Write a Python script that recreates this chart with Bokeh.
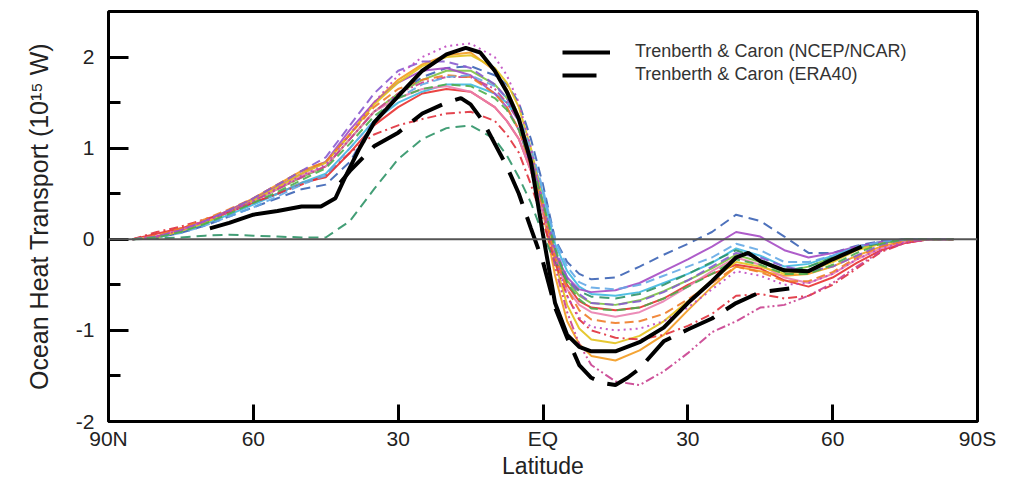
from bokeh.plotting import figure
from bokeh.models import Range1d, FixedTicker, Legend, LegendItem, Span
from bokeh.embed import file_html
from bokeh.resources import INLINE

# ---------------- data ----------------
lat = [85, 80, 75, 70, 65, 60, 55, 50, 45, 40, 35, 30, 25, 20, 15, 10,
       7.5, 5, 2.5, 0, -2.5, -5, -7.5, -10,
       -15, -20, -25, -30, -35, -40, -45, -50, -55, -60, -65, -70, -75, -80, -85]

red_solid = [0.0, 0.06, 0.12, 0.2, 0.3, 0.4, 0.5, 0.62, 0.68, 0.95, 1.25, 1.45, 1.6, 1.65, 1.62, 1.45,
             1.3, 1.1, 0.75, 0.3, -0.2, -0.5, -0.68, -0.75,
             -0.78, -0.75, -0.65, -0.5, -0.38, -0.28, -0.32, -0.45, -0.52, -0.42, -0.26, -0.12, -0.04, 0.0, 0.0]
orange_solid = [0.0, 0.02, 0.1, 0.2, 0.32, 0.45, 0.6, 0.75, 0.85, 1.15, 1.5, 1.75, 1.92, 2.02, 2.05, 1.85,
                1.65, 1.35, 0.9, 0.3, -0.4, -0.9, -1.15, -1.28,
                -1.33, -1.22, -1.05, -0.78, -0.52, -0.3, -0.35, -0.4, -0.38, -0.3, -0.18, -0.08, -0.02, 0.0, 0.0]
lime_solid = [0.0, 0.02, 0.08, 0.18, 0.3, 0.42, 0.55, 0.68, 0.8, 1.1, 1.4, 1.6, 1.75, 1.85, 1.85, 1.7,
              1.55, 1.3, 0.9, 0.4, -0.15, -0.45, -0.62, -0.7,
              -0.72, -0.67, -0.57, -0.45, -0.32, -0.17, -0.25, -0.36, -0.3, -0.2, -0.1, -0.04, 0.0, 0.0, 0.0]
cyan_solid = [0.0, 0.02, 0.08, 0.17, 0.27, 0.38, 0.5, 0.62, 0.72, 1.0, 1.3, 1.5, 1.62, 1.7, 1.7, 1.6,
              1.5, 1.3, 0.95, 0.5, -0.05, -0.35, -0.52, -0.6,
              -0.62, -0.58, -0.48, -0.38, -0.26, -0.1, -0.18, -0.3, -0.27, -0.18, -0.08, -0.03, 0.0, 0.0, 0.0]
blue_dashed = [0.0, 0.02, 0.07, 0.15, 0.25, 0.35, 0.45, 0.55, 0.6, 0.85, 1.3, 1.6, 1.78, 1.88, 1.9, 1.8,
               1.7, 1.5, 1.1, 0.6, 0.0, -0.25, -0.38, -0.44,
               -0.42, -0.3, -0.17, -0.05, 0.08, 0.27, 0.2, 0.03, -0.15, -0.15, -0.07, -0.02, 0.0, 0.0, 0.0]
purple_solid = [0.0, 0.03, 0.1, 0.2, 0.32, 0.44, 0.58, 0.72, 0.85, 1.2, 1.5, 1.72, 1.85, 1.88, 1.8, 1.6,
                1.45, 1.2, 0.8, 0.3, -0.15, -0.42, -0.55, -0.58,
                -0.56, -0.48, -0.35, -0.22, -0.08, 0.08, 0.03, -0.12, -0.2, -0.15, -0.08, -0.03, 0.0, 0.0, 0.0]
pink_solid = [0.0, 0.03, 0.1, 0.2, 0.3, 0.42, 0.55, 0.7, 0.8, 1.1, 1.4, 1.55, 1.65, 1.68, 1.62, 1.45,
              1.3, 1.1, 0.75, 0.3, -0.2, -0.55, -0.72, -0.8,
              -0.85, -0.8, -0.68, -0.52, -0.35, -0.2, -0.28, -0.42, -0.48, -0.38, -0.22, -0.1, -0.03, 0.0, 0.0]
gold_solid = [0.0, 0.02, 0.09, 0.18, 0.3, 0.43, 0.57, 0.72, 0.84, 1.15, 1.48, 1.72, 1.9, 2.0, 2.02, 1.88,
              1.72, 1.45, 1.0, 0.4, -0.25, -0.72, -0.98, -1.1,
              -1.14, -1.06, -0.9, -0.68, -0.45, -0.25, -0.3, -0.38, -0.35, -0.25, -0.12, -0.05, 0.0, 0.0, 0.0]
teal_dashed = [0.0, 0.01, 0.02, 0.04, 0.05, 0.04, 0.03, 0.02, 0.02, 0.2, 0.55, 0.88, 1.1, 1.22, 1.25, 1.1,
               0.92, 0.68, 0.4, 0.05, -0.25, -0.45, -0.57, -0.63,
               -0.65, -0.6, -0.5, -0.38, -0.25, -0.12, -0.22, -0.35, -0.3, -0.2, -0.1, -0.04, 0.0, 0.0, 0.0]
red_dashdot = [0.0, 0.08, 0.14, 0.22, 0.3, 0.4, 0.5, 0.6, 0.7, 0.95, 1.15, 1.25, 1.32, 1.38, 1.4, 1.3,
               1.15, 0.95, 0.6, 0.2, -0.25, -0.62, -0.88, -1.0,
               -1.08, -1.1, -1.05, -0.95, -0.82, -0.62, -0.6, -0.65, -0.62, -0.5, -0.32, -0.14, -0.04, 0.0, 0.0]
magenta_dashdotdot = [0.0, 0.03, 0.1, 0.2, 0.3, 0.42, 0.55, 0.68, 0.8, 1.1, 1.4, 1.6, 1.72, 1.78, 1.78, 1.65,
                      1.5, 1.3, 0.9, 0.35, -0.3, -0.8, -1.15, -1.38,
                      -1.56, -1.6, -1.45, -1.25, -1.02, -0.9, -0.75, -0.72, -0.62, -0.48, -0.3, -0.13, -0.04, 0.0, 0.0]
orange_dashed = [0.0, 0.04, 0.12, 0.22, 0.33, 0.45, 0.6, 0.75, 0.85, 1.15, 1.45, 1.65, 1.75, 1.8, 1.78, 1.6,
                 1.45, 1.2, 0.8, 0.35, -0.2, -0.55, -0.78, -0.88,
                 -0.92, -0.9, -0.82, -0.66, -0.48, -0.3, -0.36, -0.46, -0.46, -0.36, -0.2, -0.08, -0.02, 0.0, 0.0]
lightblue_dashed = [0.0, 0.02, 0.07, 0.15, 0.25, 0.35, 0.47, 0.6, 0.7, 1.0, 1.3, 1.55, 1.7, 1.78, 1.8, 1.68,
                    1.55, 1.35, 1.0, 0.55, 0.0, -0.3, -0.47, -0.53,
                    -0.55, -0.5, -0.4, -0.3, -0.2, -0.05, -0.12, -0.25, -0.25, -0.18, -0.08, -0.03, 0.0, 0.0, 0.0]
violet_dashed = [0.0, 0.03, 0.1, 0.2, 0.32, 0.45, 0.6, 0.75, 0.9, 1.25, 1.6, 1.85, 1.95, 1.95, 1.88, 1.7,
                 1.55, 1.3, 0.9, 0.4, -0.1, -0.42, -0.6, -0.7,
                 -0.72, -0.68, -0.58, -0.45, -0.3, -0.15, -0.2, -0.3, -0.35, -0.3, -0.18, -0.06, 0.0, 0.0, 0.0]
magenta_dotted = [0.0, 0.03, 0.1, 0.2, 0.3, 0.42, 0.56, 0.7, 0.82, 1.15, 1.5, 1.8, 2.0, 2.12, 2.15, 2.0,
                  1.8, 1.5, 1.0, 0.4, -0.2, -0.62, -0.86, -0.96,
                  -1.0, -0.98, -0.9, -0.75, -0.55, -0.35, -0.4, -0.5, -0.48, -0.38, -0.22, -0.1, -0.03, 0.0, 0.0]
green_dashed = [0.0, 0.02, 0.08, 0.17, 0.28, 0.4, 0.52, 0.65, 0.78, 1.05, 1.35, 1.55, 1.65, 1.7, 1.68, 1.55,
                1.42, 1.2, 0.85, 0.4, -0.1, -0.48, -0.66, -0.76,
                -0.78, -0.75, -0.65, -0.52, -0.38, -0.22, -0.28, -0.38, -0.38, -0.28, -0.15, -0.05, 0.0, 0.0, 0.0]

# Trenberth & Caron observational estimates
ncep_lat = [69, 65, 60, 55, 50, 46, 43, 41, 38, 35, 30, 25, 20, 16, 13, 10, 7.5, 5, 2.5, 0,
            -2.5, -5, -7.5, -10, -15, -20, -25, -30, -35, -40, -42.5, -45, -50, -55, -60, -66]
ncep = [0.12, 0.18, 0.27, 0.31, 0.36, 0.36, 0.45, 0.68, 1.0, 1.28, 1.57, 1.85, 2.03, 2.1, 2.05, 1.85, 1.62, 1.32, 0.85, 0.05,
        -0.7, -1.05, -1.18, -1.23, -1.23, -1.13, -0.97, -0.7, -0.46, -0.2, -0.15, -0.24, -0.34, -0.35, -0.22, -0.08]

era_lat = [42, 40, 35, 30, 25, 20, 17, 15, 12.5, 10, 7.5, 5, 2.5, 0,
           -2.5, -5, -7.5, -10, -12.5, -15, -17.5, -20, -25, -30, -35, -40, -45, -51]
era40 = [0.62, 0.75, 1.02, 1.17, 1.38, 1.5, 1.55, 1.48, 1.3, 1.05, 0.8, 0.5, 0.12, -0.25,
         -0.75, -1.08, -1.38, -1.52, -1.58, -1.6, -1.52, -1.42, -1.12, -0.99, -0.87, -0.7, -0.58, -0.54]

x_ticks = [90, 60, 30, 0, -30, -60, -90]
x_tick_labels = ["90N", "60", "30", "EQ", "30", "60", "90S"]
y_ticks = [-2, -1, 0, 1, 2]
y_tick_labels = ["-2", "-1", "0", "1", "2"]

# ---------------- figure ----------------
FONT = "Liberation Sans"
p = figure(width=1002, height=481, output_backend="svg", toolbar_location=None,
           x_range=Range1d(90, -90), y_range=Range1d(-2, 2.5),
           min_border_left=108, min_border_right=25, min_border_top=11, min_border_bottom=10)
p.background_fill_color = "white"
p.border_fill_color = "white"
p.xgrid.visible = False
p.ygrid.visible = False
p.outline_line_color = "black"
p.outline_line_width = 3

styles = [
    (red_solid, "#e8302f", "solid"),
    (orange_solid, "#f39a1e", "solid"),
    (lime_solid, "#7cc242", "solid"),
    (cyan_solid, "#3fb8e0", "solid"),
    (blue_dashed, "#3b63b5", "10 6"),
    (purple_solid, "#a54bc4", "solid"),
    (pink_solid, "#ea7fb0", "solid"),
    (gold_solid, "#e3c21c", "solid"),
    (teal_dashed, "#2f9467", "10 6"),
    (red_dashdot, "#e0303c", "9 4 2 4"),
    (magenta_dashdotdot, "#c9408f", "9 3 2 3 2 3"),
    (orange_dashed, "#f07c28", "9 5"),
    (lightblue_dashed, "#64a9e6", "9 5"),
    (violet_dashed, "#8a5cd0", "9 5"),
    (magenta_dotted, "#c04ac0", "2 4"),
    (green_dashed, "#4cae4c", "9 5"),
]
for vals, col, dash in styles:
    p.line(lat, vals, line_color=col, line_width=2, line_dash=dash, line_alpha=0.9)

zero = Span(location=0, dimension="width", line_color="#555555", line_width=2)
p.add_layout(zero)

r_ncep = p.line(ncep_lat, ncep, line_color="black", line_width=4)
r_era = p.line(era_lat, era40, line_color="black", line_width=4, line_dash="34 14")

legend = Legend(items=[LegendItem(label="Trenberth & Caron (NCEP/NCAR)", renderers=[r_ncep]),
                       LegendItem(label="Trenberth & Caron (ERA40)", renderers=[r_era])],
                location=(454, 336), border_line_color=None, background_fill_alpha=0,
                padding=0, margin=0, spacing=2, glyph_width=48, glyph_height=20,
                label_height=20, label_standoff=25, label_text_font_size="18px",
                label_text_color="#333333", label_text_font=FONT)
p.add_layout(legend)

# axes
p.xaxis.ticker = FixedTicker(ticks=x_ticks, minor_ticks=[])
p.xaxis.major_label_overrides = dict(zip(x_ticks, x_tick_labels))
p.yaxis.ticker = FixedTicker(ticks=y_ticks, minor_ticks=[-1.5, -0.5, 0.5, 1.5])
p.yaxis.major_label_overrides = dict(zip(y_ticks, y_tick_labels))
for ax in (p.xaxis[0], p.yaxis[0]):
    ax.axis_line_color = None
    ax.major_tick_out = 0
    ax.minor_tick_out = 0
    ax.major_tick_line_color = "black"
    ax.major_tick_line_width = 3
    ax.minor_tick_line_color = "black"
    ax.minor_tick_line_width = 3
    ax.major_label_text_font = FONT
    ax.major_label_text_font_size = "21px"
    ax.major_label_text_color = "#222222"
    ax.axis_label_text_font = FONT
    ax.axis_label_text_font_style = "normal"
    ax.axis_label_text_color = "#222222"
p.xaxis.axis_label_text_font_size = "23px"
p.yaxis.axis_label_text_font_size = "25px"
p.xaxis.major_tick_in = 17
p.yaxis.major_tick_in = 20
p.yaxis.minor_tick_in = 12
p.xaxis.major_label_standoff = 5
p.yaxis.major_label_standoff = 14
p.xaxis.axis_label = "Latitude"
p.yaxis.axis_label = "Ocean Heat Transport (10\u00b9\u2075 W)"
p.xaxis.axis_label_standoff = 0
p.yaxis.axis_label_standoff = 20

open("out.html", "w").write(file_html(p, INLINE))
